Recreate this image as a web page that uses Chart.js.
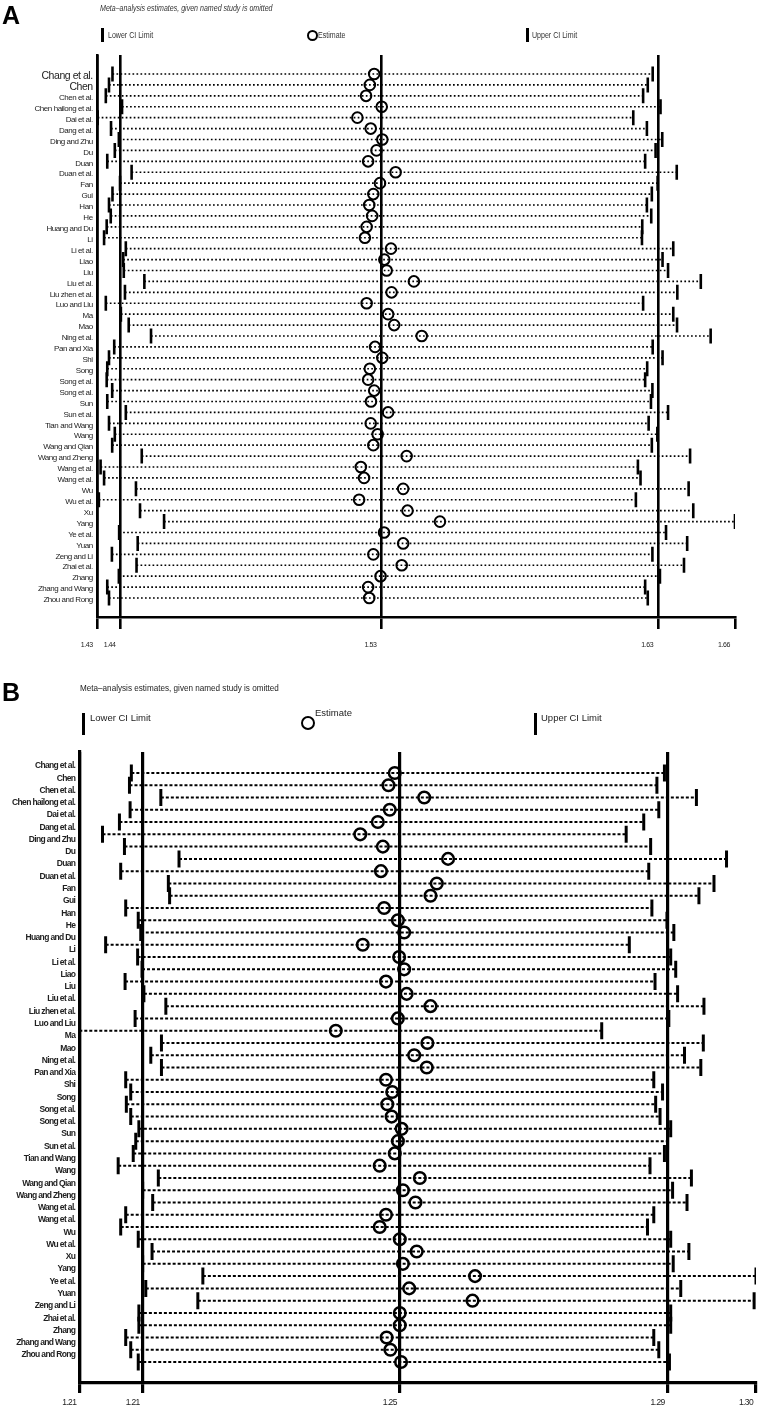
<!DOCTYPE html>
<html lang="en">

<head>
    <meta charset="UTF-8">
    <title>Meta-analysis estimates, given named study is omitted</title>
    <script src="https://cdn.jsdelivr.net/npm/chart.js"></script>
    <style>
        body {
            margin: 0;
            background-color: #fff;
        }

        .page {
            position: relative;
            width: 761px;
            height: 1410px;
            overflow: hidden;
            color: #222;
            font-family: 'Liberation Sans', Arial, sans-serif;
        }

        canvas {
            position: absolute;
            left: 0;
        }

        #chartA {
            top: 0;
        }

        #chartB {
            top: 680px;
        }

        .txt {
            position: absolute;
            white-space: nowrap;
            line-height: 1;
            transform-origin: left center;
        }

        /* the original uses a condensed face */
        .narrow {
            transform: scaleX(0.83);
        }

        .letter {
            font-weight: bold;
            font-size: 25px;
            color: #000;
        }

        .bar {
            position: absolute;
            background-color: #000;
        }

        .ring {
            position: absolute;
            border: 2px solid #000;
            border-radius: 50%;
            box-sizing: border-box;
        }
    </style>
</head>

<body>

    <div class="page">
        <canvas id="chartA" width="761" height="680"></canvas>
        <canvas id="chartB" width="761" height="730"></canvas>

        <!-- Panel A header -->
        <div class="txt letter" style="left:2px; top:3px;">A</div>
        <div class="txt narrow" style="left:100px; top:4px; font-size:8.5px; font-style:italic; color:#333;">Meta–analysis estimates, given named study is omitted</div>
        <div class="bar" style="left:101px; top:28px; width:2.5px; height:14px;"></div>
        <div class="txt narrow" style="left:108px; top:31px; font-size:8.5px; color:#333;">Lower CI Limit</div>
        <div class="ring" style="left:307px; top:30px; width:11px; height:11px;"></div>
        <div class="txt narrow" style="left:318px; top:31px; font-size:8.5px; color:#333;">Estimate</div>
        <div class="bar" style="left:526px; top:28px; width:2.5px; height:14px;"></div>
        <div class="txt narrow" style="left:532px; top:31px; font-size:8.5px; color:#333;">Upper CI Limit</div>

        <!-- Panel B header -->
        <div class="txt letter" style="left:2px; top:680px;">B</div>
        <div class="txt narrow" style="left:80px; top:683px; font-size:9.8px; color:#222;">Meta–analysis estimates, given named study is omitted</div>
        <div class="bar" style="left:82px; top:713px; width:3px; height:22px;"></div>
        <div class="txt" style="left:90px; top:713px; font-size:9.5px;">Lower CI Limit</div>
        <div class="ring" style="left:301px; top:716px; width:14px; height:14px; border-width:2.5px;"></div>
        <div class="txt" style="left:315px; top:708px; font-size:9.5px;">Estimate</div>
        <div class="bar" style="left:534px; top:713px; width:3px; height:22px;"></div>
        <div class="txt" style="left:541px; top:713px; font-size:9.5px;">Upper CI Limit</div>
    </div>

    <script>
        // Studies, in plotting order (same list for both panels)
        const studies = ['Chang et al.', 'Chen', 'Chen et al.', 'Chen hailong et al.', 'Dai et al.', 'Dang et al.', 'Ding and Zhu', 'Du', 'Duan', 'Duan et al.',
            'Fan', 'Gui', 'Han', 'He', 'Huang and Du', 'Li', 'Li et al.', 'Liao', 'Liu', 'Liu et al.',
            'Liu zhen et al.', 'Luo and Liu', 'Ma', 'Mao', 'Ning et al.', 'Pan and Xia', 'Shi', 'Song', 'Song et al.', 'Song et al.',
            'Sun', 'Sun et al.', 'Tian and Wang', 'Wang', 'Wang and Qian', 'Wang and Zheng', 'Wang et al.', 'Wang et al.', 'Wu', 'Wu et al.',
            'Xu', 'Yang', 'Ye et al.', 'Yuan', 'Zeng and Li', 'Zhai et al.', 'Zhang', 'Zhang and Wang', 'Zhou and Rong'
        ];

        // Panel A: lower CI, estimate, upper CI with the named study omitted
        const lowerA = [1.4392, 1.4380, 1.4369, 1.4425, 1.4341, 1.4387, 1.4414, 1.4400, 1.4374, 1.4458,
            1.4418, 1.4392, 1.4380, 1.4386, 1.4372, 1.4363, 1.4438, 1.4429, 1.4431, 1.4502,
            1.4435, 1.4369, 1.4421, 1.4448, 1.4525, 1.4398, 1.4380, 1.4374, 1.4372, 1.4391,
            1.4374, 1.4438, 1.4380, 1.4400, 1.4391, 1.4493, 1.4351, 1.4363, 1.4473, 1.4345,
            1.4487, 1.4570, 1.4415, 1.4479, 1.4390, 1.4475, 1.4414, 1.4374, 1.4380
        ];
        const estA = [1.5295, 1.5280, 1.5267, 1.5321, 1.5237, 1.5283, 1.5323, 1.5303, 1.5274, 1.5369,
            1.5315, 1.5292, 1.5278, 1.5288, 1.5269, 1.5263, 1.5353, 1.5330, 1.5338, 1.5432,
            1.5355, 1.5269, 1.5343, 1.5364, 1.5459, 1.5298, 1.5323, 1.5280, 1.5274, 1.5295,
            1.5284, 1.5343, 1.5283, 1.5307, 1.5292, 1.5407, 1.5249, 1.5260, 1.5395, 1.5243,
            1.5410, 1.5522, 1.5329, 1.5395, 1.5292, 1.5390, 1.5317, 1.5274, 1.5278
        ];
        const upperA = [1.6256, 1.6239, 1.6223, 1.6283, 1.6189, 1.6236, 1.6289, 1.6266, 1.6230, 1.6339,
            1.6273, 1.6253, 1.6236, 1.6251, 1.6220, 1.6219, 1.6327, 1.6290, 1.6309, 1.6422,
            1.6341, 1.6223, 1.6327, 1.6340, 1.6456, 1.6256, 1.6290, 1.6237, 1.6230, 1.6255,
            1.6250, 1.6309, 1.6242, 1.6272, 1.6253, 1.6385, 1.6205, 1.6214, 1.6380, 1.6198,
            1.6396, 1.6540, 1.6302, 1.6375, 1.6255, 1.6364, 1.6281, 1.6230, 1.6239
        ];
        // axis marks: min lower, overall lower, overall estimate, overall upper, max upper
        const ticksA = [1.4341, 1.4420, 1.5320, 1.6275, 1.6540];
        const tickLabelsA = ['1.43', '1.44', '1.53', '1.63', '1.66'];

        // Panel B
        const lowerB = [1.2092, 1.2089, 1.2139, 1.2090, 1.2073, 1.2046, 1.2081, 1.2168, 1.2075, 1.2151,
            1.2153, 1.2083, 1.2103, 1.2107, 1.2051, 1.2102, 1.2109, 1.2082, 1.2112, 1.2147,
            1.2098, 1.2009, 1.2140, 1.2123, 1.2140, 1.2083, 1.2091, 1.2084, 1.2091, 1.2104,
            1.2099, 1.2095, 1.2071, 1.2135, 1.2110, 1.2126, 1.2083, 1.2075, 1.2103, 1.2125,
            1.2110, 1.2206, 1.2115, 1.2198, 1.2104, 1.2104, 1.2083, 1.2091, 1.2103
        ];
        const estB = [1.2512, 1.2502, 1.2559, 1.2504, 1.2485, 1.2457, 1.2493, 1.2597, 1.2490, 1.2579,
            1.2569, 1.2495, 1.2517, 1.2527, 1.2461, 1.2519, 1.2527, 1.2498, 1.2531, 1.2569,
            1.2517, 1.2418, 1.2564, 1.2543, 1.2563, 1.2498, 1.2508, 1.2500, 1.2507, 1.2523,
            1.2517, 1.2512, 1.2488, 1.2552, 1.2525, 1.2545, 1.2498, 1.2488, 1.2520, 1.2547,
            1.2525, 1.2640, 1.2535, 1.2636, 1.2520, 1.2520, 1.2499, 1.2505, 1.2522
        ];
        const upperB = [1.2942, 1.2930, 1.2993, 1.2933, 1.2909, 1.2881, 1.2920, 1.3041, 1.2917, 1.3021,
            1.2997, 1.2922, 1.2946, 1.2957, 1.2886, 1.2952, 1.2960, 1.2927, 1.2963, 1.3005,
            1.2949, 1.2842, 1.3004, 1.2974, 1.3000, 1.2925, 1.2939, 1.2928, 1.2935, 1.2952,
            1.2947, 1.2942, 1.2919, 1.2985, 1.2955, 1.2978, 1.2925, 1.2915, 1.2952, 1.2981,
            1.2956, 1.3088, 1.2968, 1.3085, 1.2952, 1.2952, 1.2925, 1.2933, 1.2950
        ];
        const ticksB = [1.2009, 1.2110, 1.2520, 1.2947, 1.3088];
        const tickLabelsB = ['1.21', '1.21', '1.25', '1.29', '1.30'];

        const SANS = "'Liberation Sans', Arial, sans-serif";

        // one polyline with gaps: lower -> upper for every row
        function rowSegments(lo, hi) {
            const pts = [];
            lo.forEach((v, i) => {
                pts.push({ x: v, y: i }, { x: hi[i], y: i }, { x: null, y: null });
            });
            return pts;
        }

        function drawPanel(canvasId, lo, est, hi, axisVals, axisLabels, st) {
            const ctx = document.getElementById(canvasId).getContext('2d');
            const asPoints = arr => arr.map((v, i) => ({ x: v, y: i }));
            const bar = {
                pointStyle: 'line',
                pointRotation: 90,
                pointRadius: st.barR,
                pointHoverRadius: st.barR,
                pointBorderWidth: st.barW,
                pointHoverBorderWidth: st.barW,
                pointBorderColor: '#000',
                order: 1
            };

            return new Chart(ctx, {
                type: 'scatter',
                data: {
                    datasets: [{
                        label: 'Estimate',
                        data: asPoints(est),
                        pointStyle: 'circle',
                        pointRadius: st.ringR,
                        pointHoverRadius: st.ringR,
                        pointBorderWidth: st.ringW,
                        pointHoverBorderWidth: st.ringW,
                        pointBorderColor: '#000',
                        pointBackgroundColor: 'rgba(0,0,0,0)',
                        order: 0
                    }, Object.assign({
                        label: 'Lower CI Limit',
                        data: asPoints(lo)
                    }, bar), Object.assign({
                        label: 'Upper CI Limit',
                        data: asPoints(hi)
                    }, bar), {
                        label: 'interval',
                        data: rowSegments(lo, hi),
                        showLine: true,
                        spanGaps: false,
                        pointRadius: 0,
                        pointHoverRadius: 0,
                        borderColor: '#000',
                        borderWidth: st.dotW,
                        borderDash: st.dash,
                        borderCapStyle: 'butt',
                        order: 2
                    }]
                },
                // condensed look for the canvas text (no narrow face installed)
                plugins: [{
                    id: 'tightText',
                    beforeDraw: chart => {
                        chart.ctx.letterSpacing = st.spacing;
                    }
                }],
                options: {
                    responsive: false,
                    animation: false,
                    events: [],
                    layout: {
                        autoPadding: false,
                        padding: { top: st.top, right: st.right, bottom: st.bottom, left: 0 }
                    },
                    plugins: {
                        legend: { display: false },
                        tooltip: { enabled: false }
                    },
                    scales: {
                        x: {
                            type: 'linear',
                            min: axisVals[0],
                            max: axisVals[axisVals.length - 1],
                            afterBuildTicks: axis => {
                                axis.ticks = axisVals.map(v => ({ value: v }));
                            },
                            afterFit: axis => {
                                axis.height = st.xH;
                                axis.paddingLeft = 0;
                                axis.paddingRight = 0;
                            },
                            ticks: {
                                autoSkip: false,
                                maxRotation: 0,
                                padding: st.xPad,
                                labelOffset: st.xOff,
                                color: '#222',
                                font: { family: SANS, size: st.xFont },
                                callback: (v, i) => axisLabels[i]
                            },
                            grid: {
                                // overall lower / estimate / upper run through the plot; the max only gets a tick
                                color: c => c.index === axisVals.length - 1 ? 'rgba(0,0,0,0)' : '#000',
                                tickColor: '#000',
                                lineWidth: st.refW,
                                tickLength: st.tickLen
                            },
                            border: { display: true, color: '#000', width: st.refW }
                        },
                        y: {
                            type: 'linear',
                            reverse: true,
                            min: st.yMin,
                            max: st.yMax,
                            afterBuildTicks: axis => {
                                axis.ticks = studies.map((s, i) => ({ value: i }));
                            },
                            afterFit: axis => {
                                axis.width = st.yW;
                                axis.paddingTop = 0;
                                axis.paddingBottom = 0;
                            },
                            ticks: {
                                autoSkip: false,
                                padding: st.yPad,
                                labelOffset: st.yOff,
                                color: '#222',
                                font: st.yFont,
                                callback: (v, i) => studies[i]
                            },
                            grid: { display: false, drawTicks: false },
                            border: { display: true, color: '#000', width: st.refW }
                        }
                    }
                }
            });
        }

        drawPanel('chartA', lowerA, estA, upperA, ticksA, tickLabelsA, {
            top: 55, right: 26, bottom: 23,
            xH: 40, xPad: 12, xOff: -11, xFont: 7, tickLen: 12,
            yMin: -1.74, yMax: 49.74, yW: 97.7, yPad: 5, yOff: 2,
            yFont: c => c.index < 2 ?
                { family: SANS, size: 10.5 } :
                { family: SANS, size: 8 },
            spacing: '-0.45px',
            refW: 2.6, barR: 7.5, barW: 2.6, ringR: 5.3, ringW: 2,
            dotW: 1.7, dash: [1.7, 2.3]
        });

        drawPanel('chartB', lowerB, estB, upperB, ticksB, tickLabelsB, {
            top: 72, right: 5, bottom: 2,
            xH: 25, xPad: 5, xOff: -10, xFont: 8.5, tickLen: 10,
            yMin: -1.71, yMax: 49.71, yW: 79.3, yPad: 4, yOff: -7,
            yFont: { family: SANS, size: 8.5, weight: 'bold' },
            spacing: '-0.65px',
            refW: 3.2, barR: 8.5, barW: 3, ringR: 5.8, ringW: 2.5,
            dotW: 2, dash: [3, 2]
        });
    </script>

</body>

</html>
